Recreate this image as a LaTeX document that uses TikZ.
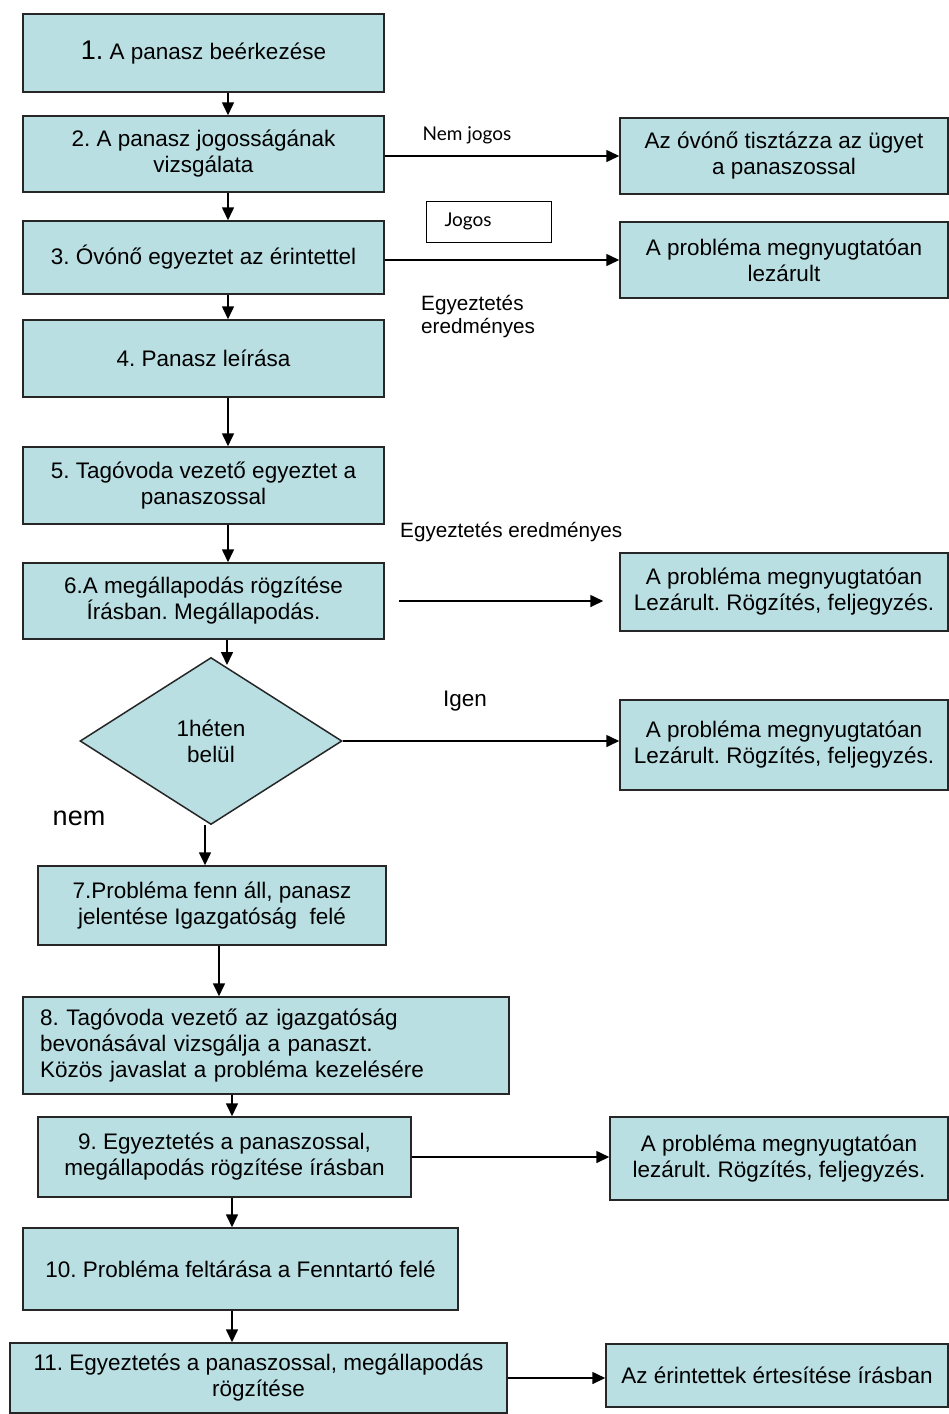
\documentclass[tikz,border=0pt]{standalone}
\usepackage{fontspec}
\setmainfont{Liberation Sans}
\newfontfamily\gill{Lato}
\usetikzlibrary{shapes.geometric,arrows.meta}
\definecolor{boxfill}{RGB}{185,223,227}
\frenchspacing
\begin{document}
\begin{tikzpicture}[x=1pt,y=-1pt,
    box/.style={draw=black!85,line width=1.5pt,fill=boxfill,inner sep=0pt,
      align=center,font=\fontsize{22.5}{26}\selectfont},
    arr/.style={-{Triangle[length=13pt,width=12pt]},line width=1.6pt},
    lbl/.style={inner sep=0pt,font=\fontsize{20.7}{23.5}\selectfont}]
  \useasboundingbox[fill=white] (0,0) rectangle (949,1414);
  % main column
  \node[box,minimum width=361pt,minimum height=78pt] (b1) at (203.5,53)
       {{\fontsize{27}{30}\selectfont 1.} A panasz beérkezése};
  \node[box,minimum width=361pt,minimum height=76pt] (b2) at (203.5,154)
       {2. A panasz jogosságának\\vizsgálata};
  \node[box,minimum width=361pt,minimum height=73pt] (b3) at (203.5,257.5)
       {3. Óvónő egyeztet az érintettel};
  \node[box,minimum width=361pt,minimum height=77pt] (b4) at (203.5,358.5)
       {4. Panasz leírása};
  \node[box,minimum width=361pt,minimum height=77pt] (b5) at (203.5,485.5)
       {5. Tagóvoda vezető egyeztet a\\panaszossal};
  \node[box,minimum width=361pt,minimum height=76pt] (b6) at (203.5,601)
       {6.A megállapodás rögzítése\\Írásban. Megállapodás.};
  \node[box,diamond,minimum width=262pt,minimum height=167pt] (dia) at (211,741)
       {1héten\\belül};
  \node[box,minimum width=348pt,minimum height=79pt] (b7) at (212,905.5)
       {7.Probléma fenn áll, panasz\\jelentése Igazgatóság~ felé};
  \node[box,align=left,text width=452pt,minimum width=486pt,minimum height=97pt]
       (b8) at (266,1045.5)
       {8. Tagóvoda vezető az igazgatóság\\bevonásával vizsgálja a panaszt.\\Közös javaslat a probléma kezelésére};
  \node[box,minimum width=373pt,minimum height=80pt] (b9) at (224.5,1157)
       {9. Egyeztetés a panaszossal,\\megállapodás rögzítése írásban};
  \node[box,minimum width=435pt,minimum height=82pt] (b10) at (240.5,1269)
       {10. Probléma feltárása a Fenntartó felé};
  \node[box,minimum width=497pt,minimum height=70pt] (b11) at (258.5,1378)
       {11. Egyeztetés a panaszossal, megállapodás\\rögzítése};
  % right column
  \node[box,minimum width=328pt,minimum height=76pt] (r2) at (784,156)
       {Az óvónő tisztázza az ügyet\\a panaszossal};
  \node[box,minimum width=328pt,minimum height=76pt] (r3) at (784,260)
       {A probléma megnyugtatóan\\lezárult};
  \node[box,minimum width=328pt,minimum height=78pt] (r6) at (784,592)
       {A probléma megnyugtatóan\\Lezárult. Rögzítés, feljegyzés.};
  \node[box,minimum width=328pt,minimum height=90pt] (rd) at (784,745)
       {A probléma megnyugtatóan\\Lezárult. Rögzítés, feljegyzés.};
  \node[box,minimum width=338pt,minimum height=83pt] (r9) at (779,1158.5)
       {A probléma megnyugtatóan\\lezárult. Rögzítés, feljegyzés.};
  \node[box,minimum width=342pt,minimum height=63pt] (r11) at (777,1375.5)
       {Az érintettek értesítése írásban};
  % labels
  \node[inner sep=0pt,font=\gill\fontsize{19}{22}\selectfont] (nemjog) at (467,135) {Nem jogos};
  \node[draw,line width=1pt,anchor=west,align=left,inner ysep=0pt,inner xsep=9pt,
        text width=107pt,minimum height=41pt,font=\gill\fontsize{19}{22}\selectfont]
       (jog) at (426,221.5) {\hspace*{9pt}Jogos};
  \node[lbl,anchor=west,align=left] (egy1) at (421,316.5) {Egyeztetés\\eredményes};
  \node[lbl,anchor=west] (egy2) at (400,532) {Egyeztetés eredményes};
  \node[inner sep=0pt,font=\fontsize{22.5}{26}\selectfont] (igen) at (465,701) {Igen};
  \node[inner sep=0pt,font=\fontsize{27}{30}\selectfont] (nem) at (79,818) {nem};
  % connectors
  \coordinate (s1) at (228,0);
  \coordinate (s2) at (205,0);
  \coordinate (s3) at (219,0);
  \coordinate (s4) at (232,0);
  \coordinate (dtop) at (227,665);
  \foreach \a/\b in {b1/b2,b2/b3,b3/b4,b4/b5,b5/b6}
    \draw[arr] (\a.south -| s1) -- (\b.north -| s1);
  \draw[arr] (b6.south -| dtop) -- (dtop);
  \draw[arr] (dia.south -| s2) -- (b7.north -| s2);
  \draw[arr] (b7.south -| s3) -- (b8.north -| s3);
  \foreach \a/\b in {b8/b9,b9/b10,b10/b11}
    \draw[arr] (\a.south -| s4) -- (\b.north -| s4);
  \draw[arr] (b2.east |- r2.west) -- (r2.west);
  \draw[arr] (b3.east |- r3.west) -- (r3.west);
  \draw[arr,shorten <=14pt,shorten >=16pt] (b6.east) -- (b6.east -| r6.west);
  \draw[arr] (dia.east) -- (dia.east -| rd.west);
  \draw[arr] (b9.east) -- (b9.east -| r9.west);
  \draw[arr] (b11.east) -- (b11.east -| r11.west);
\end{tikzpicture}
\end{document}
